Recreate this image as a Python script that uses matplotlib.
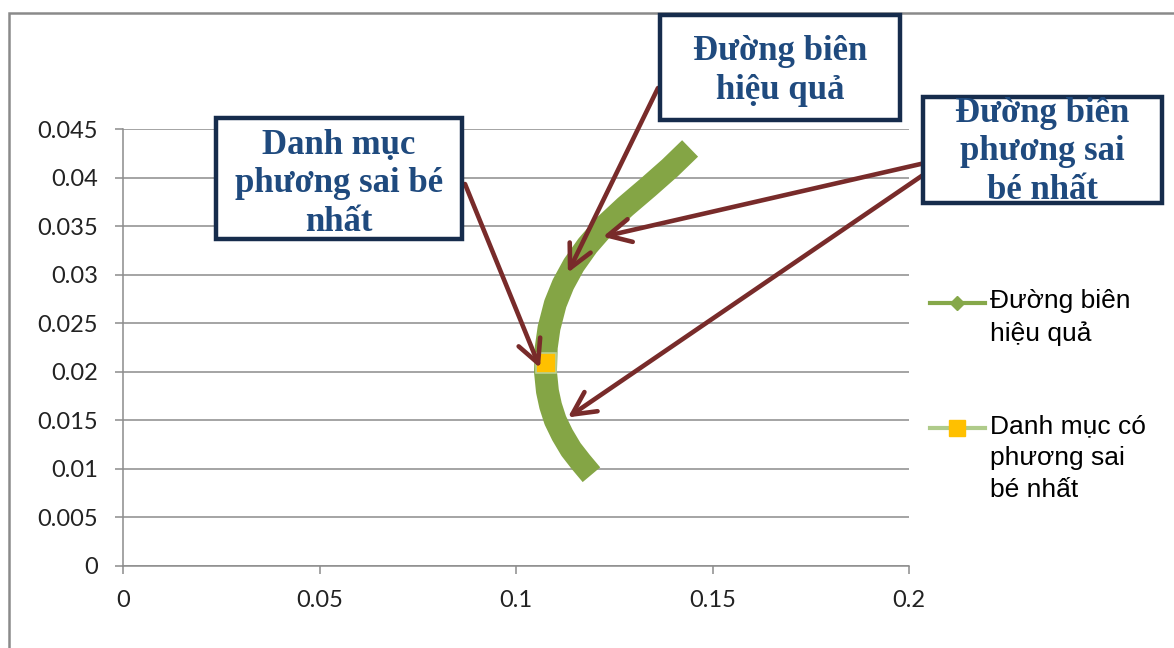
import matplotlib.pyplot as plt
from matplotlib.lines import Line2D
from matplotlib.patches import Rectangle

# === Data ===
# efficient frontier: std dev (x) vs expected return (y)
sigma = [0.1192, 0.1165, 0.1140, 0.1118, 0.1100, 0.1088, 0.1080, 0.1075,
         0.1077, 0.1084, 0.1100, 0.1120, 0.1147, 0.1182, 0.1225,
         0.1278, 0.1336, 0.1392, 0.1443]
ret = [0.0094, 0.0107, 0.0120, 0.0135, 0.0150, 0.0165, 0.0180, 0.0200,
       0.0225, 0.0245, 0.0270, 0.0290, 0.0310, 0.0330, 0.0350,
       0.0370, 0.0390, 0.0410, 0.0430]

# minimum variance portfolio
mvp_sigma = [0.1077]
mvp_ret = [0.0209]

x_ticks = [0, 0.05, 0.1, 0.15, 0.2]
y_ticks = [0, 0.005, 0.01, 0.015, 0.02, 0.025, 0.03, 0.035, 0.04, 0.045]
x_labels = ["0", "0.05", "0.1", "0.15", "0.2"]
y_labels = ["0", "0.005", "0.01", "0.015", "0.02", "0.025", "0.03", "0.035", "0.04", "0.045"]

label_frontier = "Đường biên\nhiệu quả"
label_mvp = "Danh mục có\nphương sai\nbé nhất"

# callout boxes: text, box in pixels (left, top, right, bottom), text centre y
callouts = [
    ("Danh mục\nphương sai bé\nnhất", (216, 118, 462, 239), 184),
    ("Đường biên\nhiệu quả", (660, 15, 900, 120), 71),
    ("Đường biên\nphương sai\nbé nhất", (923, 97, 1162, 203), 152),
]
# arrows: start in pixels, target in data coords
arrows = [
    ((465, 184), (0.1061, 0.0204)),
    ((658, 88), (0.1132, 0.0302)),
    ((925, 163), (0.1221, 0.0339)),
    ((926, 173), (0.1132, 0.0153)),
]

W, H = 1174, 648
GREEN = "#84A545"
ARROW = "#782B2A"
NAVY = "#162C4C"
TXT = "#1F4A7E"
GRID = "#8C8C8C"

def fx(px):
    return px / W

def fy(py):
    return 1 - py / H

fig = plt.figure(figsize=(11.74, 6.48), dpi=100)
ax = fig.add_axes([fx(123), fy(566), fx(909) - fx(123), fy(129) - fy(566)])

# outer chart border
fig.add_artist(Rectangle((fx(9), -0.2), 1.2, fy(13) + 0.2, transform=fig.transFigure,
                         fill=False, edgecolor="#8A8A8A", lw=1.8))

ax.plot(sigma, ret, color=GREEN, lw=16.5, solid_capstyle="butt",
        solid_joinstyle="round", zorder=3)
ax.plot(mvp_sigma, mvp_ret, linestyle="none", marker="s", ms=14,
        markerfacecolor="#FFC000", markeredgecolor="#B9D08F", mew=1.2, zorder=4)

ax.set_xlim(0, 0.2)
ax.set_ylim(0, 0.045)
ax.set_xticks(x_ticks)
ax.set_xticklabels(x_labels)
ax.set_yticks(y_ticks)
ax.set_yticklabels(y_labels)
ax.grid(axis="y", color=GRID, lw=1.1)
ax.set_axisbelow(True)
for s in ["top", "right"]:
    ax.spines[s].set_visible(False)
for s in ["left", "bottom"]:
    ax.spines[s].set_color(GRID)
    ax.spines[s].set_linewidth(1.1)
ax.tick_params(direction="out", length=6, width=1.1, color=GRID,
               labelsize=17, labelcolor="#222222")
ax.tick_params(axis="y", pad=12)
ax.tick_params(axis="x", pad=11)
for t in ax.get_xticklabels() + ax.get_yticklabels():
    t.set_fontfamily("Lato")

# legend, drawn by hand so each key sits on the first line of its label
legend_items = [
    (label_frontier, 303, dict(color="#86A84A", marker="D", ms=7)),
    (label_mvp, 428, dict(color="#AFCB8A", marker="s", ms=11,
                          markerfacecolor="#FFC000", markeredgecolor="#FFC000")),
]
for label, ly, style in legend_items:
    fig.add_artist(Line2D([fx(930), fx(957), fx(985)], [fy(ly)] * 3, lw=3,
                          markevery=[1], transform=fig.transFigure, **style))
    fig.text(fx(990), fy(ly - 14), label, ha="left", va="top",
             family="Liberation Sans", fontsize=19, color="black", linespacing=1.42)

# arrows
for (sx, sy), (tx, ty) in arrows:
    ax.annotate("", xy=(tx, ty), xycoords="data", xytext=(fx(sx), fy(sy)),
                textcoords="figure fraction", annotation_clip=False,
                arrowprops=dict(arrowstyle="->,head_length=0.75,head_width=0.38",
                                color=ARROW, lw=3.3, mutation_scale=22,
                                shrinkA=0, shrinkB=0), zorder=5)

# callout boxes
for txt, (l, t, r, b), cy in callouts:
    fig.add_artist(Rectangle((fx(l), fy(b)), fx(r) - fx(l), fy(t) - fy(b),
                             transform=fig.transFigure, facecolor="white",
                             edgecolor=NAVY, lw=3.2, zorder=6))
    fig.text(fx((l + r) / 2), fy(cy), txt, ha="center", va="center",
             fontsize=25, fontweight="bold", family="Liberation Serif",
             color=TXT, linespacing=1.22, zorder=7)

fig.savefig("out.png", dpi=100)
